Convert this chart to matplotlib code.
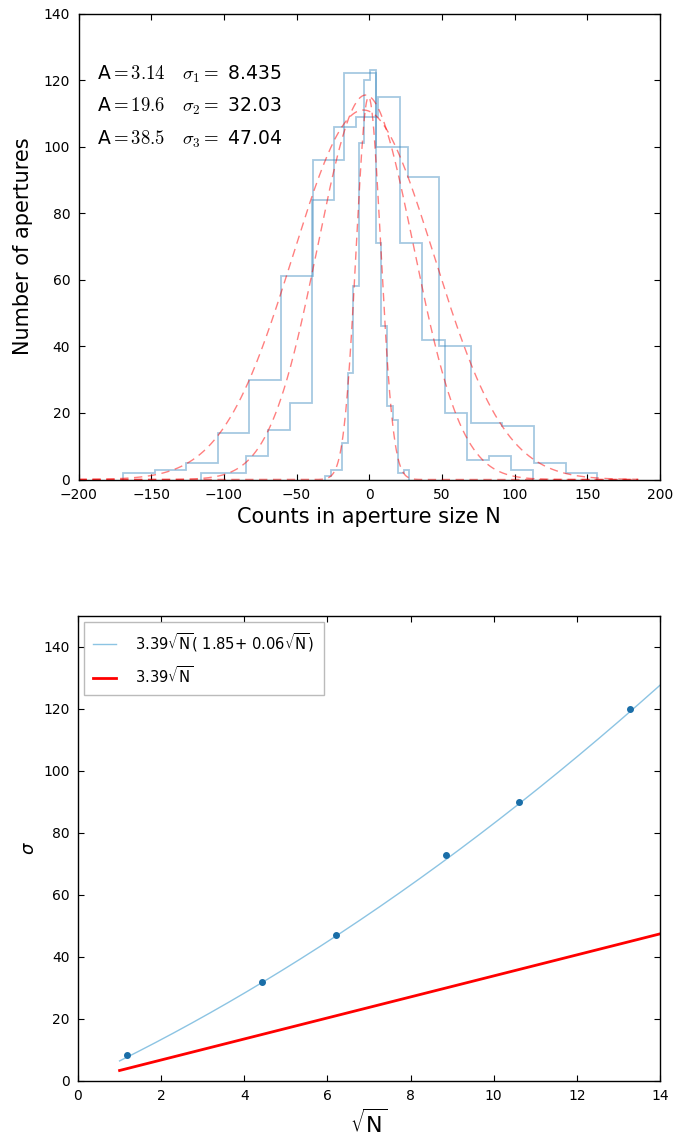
import numpy as np
import matplotlib
matplotlib.use("Agg")
import matplotlib.pyplot as plt

# ---------------- data ----------------
# top panel: histograms of counts in apertures (three aperture sizes)
narrow_edges = [-30.3, -26.44, -22.58, -18.72, -14.86, -11.0, -7.14, -3.28, 0.58,
                4.44, 8.3, 12.16, 16.02, 19.88, 23.74, 27.6]
narrow_counts = [1, 3, 3, 11, 32, 58, 101, 120, 123, 71, 46, 22, 18, 2, 3]

medium_edges = [-115.4, -100.2, -85.0, -69.8, -54.6, -39.4, -24.2, -9.0, 6.2,
                21.4, 36.6, 51.8, 67.0, 82.2, 97.4, 112.6]
medium_counts = [2, 2, 7, 15, 23, 84, 106, 109, 115, 71, 42, 20, 6, 7, 3]

wide_edges = [-169.4, -147.65, -125.9, -104.15, -82.4, -60.65, -38.9, -17.15, 4.6,
              26.35, 48.1, 69.85, 91.6, 113.35, 135.1, 156.85]
wide_counts = [2, 3, 5, 14, 30, 61, 96, 122, 100, 91, 40, 17, 16, 5, 2]

# gaussian fit curves (as drawn)
fit_amp = [115.0, 115.5, 111.0]
fit_mu = [-0.5, -2.5, -4.0]
fit_sigma = [8.435, 33.0, 48.5]
fit_A = ["3.14", "19.6", "38.5"]
fit_sigma_txt = ["8.435", "32.03", "47.04"]
fit_range = (-200, 185)

# bottom panel: sigma vs sqrt(N)
sqrtN = [1.17, 4.43, 6.2, 8.85, 10.62, 13.28]
sigma = [8.435, 32.03, 47.04, 72.9, 90.0, 120.0]
coef_a, coef_b, coef_c = 3.39, 1.85, 0.06
curve_range = (1.0, 14.0)

# ---------------- style ----------------
plt.rcParams.update({
    "font.family": ["DejaVu Sans"],
    "xtick.direction": "in", "ytick.direction": "in",
    "xtick.top": True, "ytick.right": True,
    "xtick.major.size": 4, "ytick.major.size": 4,
    "xtick.major.pad": 6, "ytick.major.pad": 6,
    "axes.linewidth": 1.0,
    "xtick.labelsize": 10, "ytick.labelsize": 10,
})

fig = plt.figure(figsize=(6.75, 11.37), dpi=100, facecolor="white")
W, H = 675.0, 1137.0
ax1 = fig.add_axes([78.5 / W, 1 - 479.5 / H, (660 - 78.5) / W, (479.5 - 13.5) / H])
ax2 = fig.add_axes([78 / W, 1 - 1081 / H, (660 - 78) / W, (1081 - 616) / H])

hist_color = "#3a87bd"
for edges, counts in [(narrow_edges, narrow_counts), (medium_edges, medium_counts),
                      (wide_edges, wide_counts)]:
    e = np.asarray(edges)
    ax1.hist(e[:-1], bins=e, weights=counts, histtype="step",
             color=hist_color, alpha=0.45, lw=1.3)

xg = np.linspace(fit_range[0], fit_range[1], 600)
for a, m, s in zip(fit_amp, fit_mu, fit_sigma):
    ax1.plot(xg, a * np.exp(-(xg - m) ** 2 / (2 * s ** 2)), ls="--",
             color="red", alpha=0.5, lw=1.0, dashes=(6, 4))

ax1.set_xlim(-200, 200)
ax1.set_ylim(0, 140)
ax1.set_xticks(np.arange(-200, 201, 50))
ax1.set_yticks(np.arange(0, 141, 20))
ax1.set_xlabel("Counts in aperture size N", fontsize=15)
ax1.set_ylabel("Number of apertures", fontsize=15, labelpad=8)

ytxt = [0.87, 0.80, 0.73]
for i in range(3):
    ax1.text(0.032, ytxt[i],
             "A$=%s$   $\\sigma_%d=$ %s" % (fit_A[i], i + 1, fit_sigma_txt[i]),
             transform=ax1.transAxes, fontsize=13.5, math_fontfamily="cm",
             va="center", ha="left")

# bottom panel
xc = np.linspace(curve_range[0], curve_range[1], 300)
ax2.plot(xc, coef_a * xc * (coef_b + coef_c * xc), color="#8cc4e3", lw=1.0,
         label="3.39$\\sqrt{\\rm N}$( 1.85+ 0.06$\\sqrt{\\rm N}$)")
ax2.plot(xc, coef_a * xc, color="red", lw=2.0, label="3.39$\\sqrt{\\rm N}$")
ax2.plot(sqrtN, sigma, "o", color="#1a6ea8", ms=4, mec="#1a6ea8")
ax2.set_xlim(0, 14)
ax2.set_ylim(0, 150)
ax2.set_xticks(np.arange(0, 15, 2))
ax2.set_yticks(np.arange(0, 141, 20))
ax2.set_xlabel("$\\sqrt{\\rm N}$", fontsize=16)
ax2.set_ylabel("$\\sigma$", fontsize=13)
leg = ax2.legend(loc="upper left", fontsize=10.6, fancybox=False, handlelength=1.6,
                 borderpad=0.6, labelspacing=0.8, handletextpad=1.3,
                 borderaxespad=0.4)
leg.get_frame().set_edgecolor("#aaaaaa")

fig.savefig("out.png", dpi=100, facecolor="white")
